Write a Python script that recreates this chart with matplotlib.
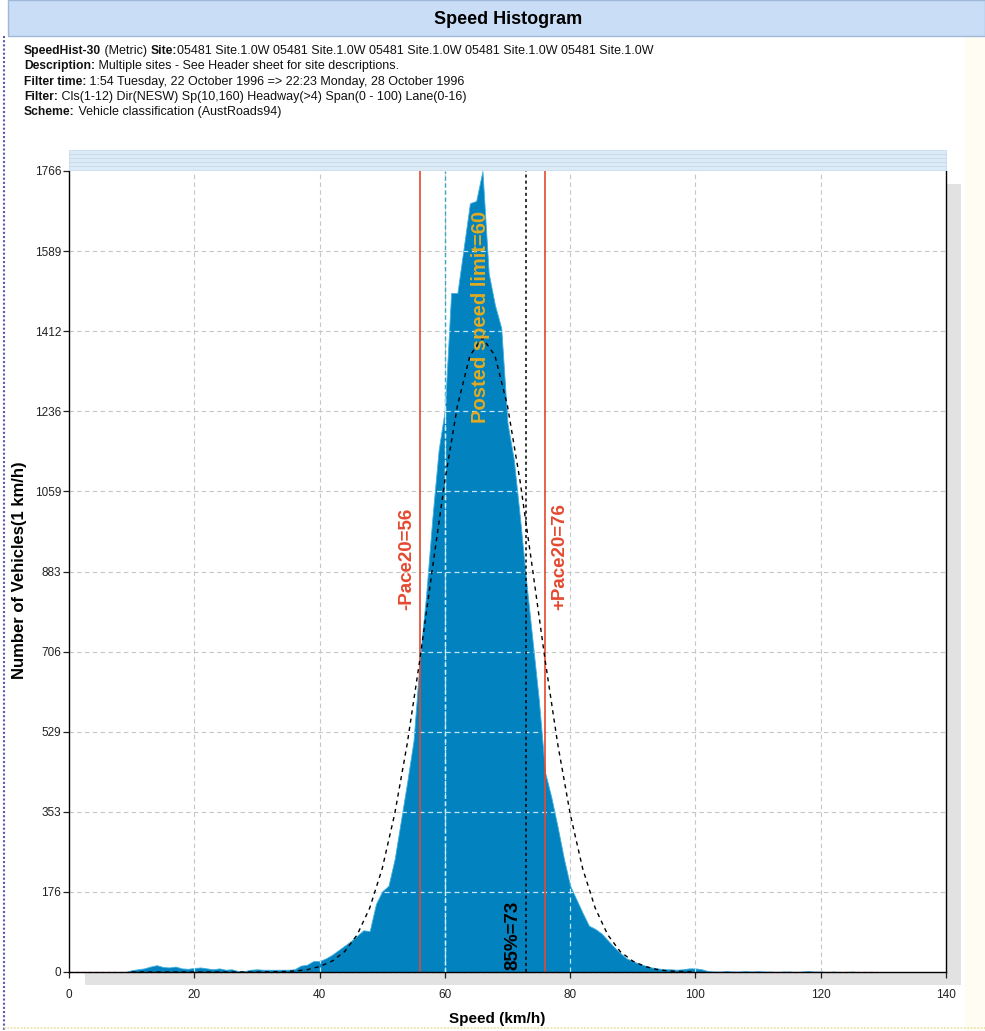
import matplotlib
matplotlib.use("Agg")
import matplotlib.pyplot as plt
from matplotlib.patches import Rectangle
from matplotlib.lines import Line2D

plt.rcParams['font.family'] = ['Liberation Sans', 'DejaVu Sans']

# ---------------- data ----------------
speeds = list(range(0, 131))
counts = [0]*10 + [
    4, 6, 8, 12, 15, 11, 10, 12, 8, 7,          # 10-19
    9, 10, 8, 6, 8, 5, 6, 2, 2, 5,              # 20-29
    6, 5, 5, 5, 5, 5, 6, 14, 16, 24,            # 30-39
    24, 30, 38, 48, 58, 68, 80, 92, 90, 150,    # 40-49
    178, 190, 250, 335, 420, 510, 690, 830, 1000, 1150,   # 50-59
    1240, 1497, 1497, 1596, 1695, 1700, 1766, 1540, 1470, 1420,  # 60-69
    1210, 1130, 1000, 860, 730, 600, 440, 385, 320, 250,  # 70-79
    190, 160, 130, 102, 95, 85, 70, 55, 42, 30,  # 80-89
    24, 18, 14, 10, 8, 6, 6, 5, 6, 8,            # 90-99
    8, 6, 2, 1, 1, 2, 1, 1, 2, 1,                # 100-109
    2, 1, 1, 0, 1, 1, 0, 1, 2, 1,                # 110-119
    1, 0, 1, 0, 0, 1, 0, 0, 0, 0,                # 120-129
    0]
normal_speeds = [10, 20, 30, 34, 36, 38, 40, 42, 44, 46, 48, 50, 52, 54, 56, 58, 60, 62, 64, 66,
                 68, 70, 72, 74, 76, 78, 80, 82, 84, 86, 88, 90, 92, 94, 96, 98, 100]
normal_counts = [0, 0, 0, 1, 2, 5, 12, 24, 45, 82, 141, 228, 349, 504, 688, 888, 1083, 1248, 1359, 1398,
                 1359, 1248, 1083, 888, 688, 504, 349, 228, 141, 82, 45, 24, 12, 5, 2, 1, 0]
ytick_values = [0, 176.6, 353.2, 529.8, 706.4, 883, 1059.6, 1236.2, 1412.8, 1589.4, 1766]
ytick_labels = ["0", "176", "353", "529", "706", "883", "1059", "1236", "1412", "1589", "1766"]
xtick_values = [0, 20, 40, 60, 80, 100, 120, 140]
pace_low, pace_high, posted, pct85 = 56, 76, 60, 73

header_lines = [
    [("SpeedHist-30", True), (" (Metric) ", False), ("Site:", True),
     ("05481 Site.1.0W 05481 Site.1.0W 05481 Site.1.0W 05481 Site.1.0W 05481 Site.1.0W", False)],
    [("Description:", True), (" Multiple sites - See Header sheet for site descriptions.", False)],
    [("Filter time:", True), (" 1:54 Tuesday, 22 October 1996 => 22:23 Monday, 28 October 1996", False)],
    [("Filter:", True), (" Cls(1-12) Dir(NESW) Sp(10,160) Headway(>4) Span(0 - 100) Lane(0-16)", False)],
    [("Scheme:", True), (" Vehicle classification (AustRoads94)", False)],
]

# ---------------- layout ----------------
W, H = 985, 1031
fig = plt.figure(figsize=(W/100, H/100), dpi=100)
fig.patch.set_facecolor('white')

def fx(px): return px / W
def fy(py): return 1 - py / H

# right cream margin
fig.add_artist(Rectangle((fx(965), 0), fx(985) - fx(965), fy(36), transform=fig.transFigure,
                         facecolor='#fffdf3', edgecolor='none', zorder=-3))

# title bar
fig.add_artist(Rectangle((fx(8), fy(36)), fx(985) - fx(8), fy(0) - fy(36), transform=fig.transFigure,
                         facecolor='#c9def6', edgecolor='#9fb8d8', lw=1, zorder=-2))
fig.text(fx(508), fy(19), "Speed Histogram", ha='center', va='center', fontsize=13, fontweight='bold')

# left dotted border
fig.add_artist(Line2D([fx(4), fx(4)], [fy(36), fy(1031)], transform=fig.transFigure,
                      color='#5a5ab0', lw=1.5, ls=(0, (1, 1))))
fig.add_artist(Line2D([fx(4), fx(985)], [fy(1028), fy(1028)], transform=fig.transFigure,
                      color='#e8e0a0', lw=1.2, ls=(0, (1, 1))))

# header text with mixed bold/normal
fig.canvas.draw()
renderer = fig.canvas.get_renderer()
y0 = 51
for i, parts in enumerate(header_lines):
    x = fx(24)
    for txt, bold in parts:
        t = fig.text(x, fy(y0 + i * 15.3), txt, ha='left', va='center',
                     fontsize=8.7 if bold else 9.0,
                     fontweight='bold' if bold else 'normal', color='#111111')
        bb = t.get_window_extent(renderer=renderer)
        x += bb.width / W

# shadow
fig.add_artist(Rectangle((fx(946), fy(985)), fx(961) - fx(946), fy(184) - fy(985), transform=fig.transFigure,
                         facecolor='#e2e2e2', edgecolor='none', zorder=-1))
fig.add_artist(Rectangle((fx(85), fy(985)), fx(961) - fx(85), fy(972) - fy(985), transform=fig.transFigure,
                         facecolor='#e2e2e2', edgecolor='none', zorder=-1))

# top band
fig.add_artist(Rectangle((fx(69), fy(170)), fx(946) - fx(69), fy(150) - fy(170), transform=fig.transFigure,
                         facecolor='#dcebf6', edgecolor='#c8dced', lw=0.6, zorder=1))
for py in [154, 158, 162, 166]:
    fig.add_artist(Line2D([fx(69), fx(946)], [fy(py), fy(py)], transform=fig.transFigure,
                          color='#c2d8ea', lw=0.6, zorder=2))

ax = fig.add_axes([fx(69), fy(972), fx(946) - fx(69), fy(171) - fy(972)])
ax.set_xlim(0, 140)
ax.set_ylim(0, 1766)
ax.set_facecolor('white')

grid_kw = dict(color='#c6c6c6', lw=0.8, ls=(0, (4, 3)))
gridlines = []
for xv in xtick_values[1:-1]:
    gridlines.append(('v', xv))
for yv in ytick_values[1:-1]:
    gridlines.append(('h', yv))
for kind, v in gridlines:
    if kind == 'v':
        ax.axvline(v, zorder=0.5, **grid_kw)
    else:
        ax.axhline(v, zorder=0.5, **grid_kw)

# baseline red dashed
ax.plot([0, 129], [0, 0], color='#e07060', lw=0.9, ls=(0, (3, 2)), zorder=0.8, clip_on=False)

poly = ax.fill_between(speeds, counts, 0, color='#0282bf', lw=0.6, edgecolor='#3fb0e0', zorder=1)
clip_path = poly.get_paths()[0]
for kind, v in gridlines:
    if kind == 'v':
        ln = ax.axvline(v, color='#bfe8fa', lw=0.9, ls=(0, (4, 3)), zorder=1.5)
    else:
        ln = ax.axhline(v, color='#bfe8fa', lw=0.9, ls=(0, (4, 3)), zorder=1.5)
    ln.set_clip_path(clip_path, ax.transData)

# normal curve
ax.plot(normal_speeds, normal_counts, color='black', lw=1.0, ls=(0, (3, 3)), zorder=3)

# reference lines
red = '#e4492f'
ax.axvline(pace_low, color=red, lw=1.2, zorder=2.5)
ax.axvline(pace_high, color=red, lw=1.2, zorder=2.5)
ax.axvline(posted, color='#3aa6c8', lw=1.0, ls=(0, (3, 2)), zorder=2.5)
ln60 = ax.axvline(posted, color='#cff0ff', lw=1.0, ls=(0, (3, 2)), zorder=2.6)
ln60.set_clip_path(clip_path, ax.transData)
ax.axvline(pct85, color='black', lw=1.1, ls=(0, (2, 2)), zorder=2.5)

ax.text(53.9, 910, f"-Pace20={pace_low}", rotation=90, ha='center', va='center', color=red,
        fontsize=13.5, fontweight='bold')
ax.text(78.4, 915, f"+Pace20={pace_high}", rotation=90, ha='center', va='center', color=red,
        fontsize=13.5, fontweight='bold')
ax.text(65.7, 1444, f"Posted speed limit={posted}", rotation=90, ha='center', va='center',
        color='#e0aa22', fontsize=14.5, fontweight='bold', zorder=4)
ax.text(70.8, 4, f"85%={pct85}", rotation=90, ha='center', va='bottom', color='black',
        fontsize=13.5, fontweight='bold', zorder=4)

# axes styling
ax.set_xticks(xtick_values)
ax.set_xticklabels([str(v) for v in xtick_values])
ax.set_yticks(ytick_values)
ax.set_yticklabels(ytick_labels)
ax.tick_params(axis='both', labelsize=8.5, colors='#222222', length=4, width=0.9)
ax.tick_params(axis='y', pad=1.5)
ax.tick_params(axis='x', pad=8)
ax.spines['top'].set_visible(False)
for s in ['left', 'bottom', 'right']:
    ax.spines[s].set_color('black')
    ax.spines[s].set_linewidth(1.0)

fig.text(fx(497), fy(1019), "Speed (km/h)", ha='center', va='center', fontsize=11, fontweight='bold')
fig.text(fx(20), fy(570), "Number of Vehicles(1 km/h)", ha='center', va='center', rotation=90,
         fontsize=12, fontweight='bold')

fig.savefig("out.png", dpi=100, facecolor=fig.get_facecolor())
